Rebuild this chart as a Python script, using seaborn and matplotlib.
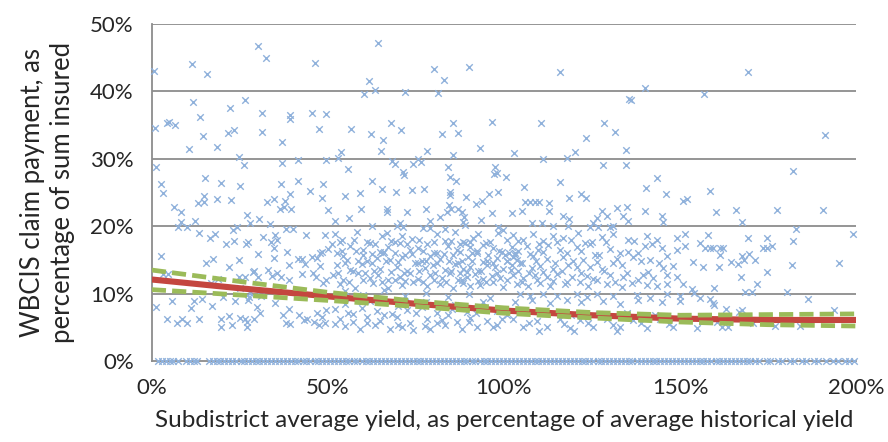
import numpy as np
import pandas as pd
import matplotlib
matplotlib.use('Agg')
import matplotlib.pyplot as plt
import seaborn as sns
from matplotlib.ticker import FuncFormatter

# ---- data (all values in percent) ----
# scatter, upper part (claims above ~24%), left half
top_left_x = [0.6, 11.4, 15.6, 30.1, 32.4, 46.3, 64.2, 61.6, 60.2, 63.4,
              11.8, 13.6, 22.2, 26.4, 0.9, 4.3, 5.0, 6.5, 14.5, 10.5,
              18.5, 21.6, 23.3, 31.3, 31.3, 36.9, 39.2, 39.2, 45.5, 49.4,
              47.4, 56.5, 62.2, 65.6, 65.1, 53.7, 52.8, 24.7, 26.1, 36.9,
              41.5, 49.4, 55.7, 1.1, 2.6, 3.1, 15.1, 19.6, 25.0, 36.6,
              41.5, 48.6, 44.9, 39.2, 62.5, 65.3, 59.1, 54.8, 14.8, 18.5,
              22.4, 48.3]
top_left_y = [43.0, 44.1, 42.6, 46.7, 45.0, 44.2, 47.2, 41.5, 39.6, 40.2,
              38.4, 36.2, 37.5, 38.7, 34.6, 35.3, 35.4, 35.0, 33.4, 31.5,
              31.8, 33.8, 34.3, 36.8, 34.0, 32.5, 36.5, 35.9, 36.8, 36.6,
              34.4, 34.4, 33.7, 32.8, 31.2, 31.0, 30.1, 30.3, 29.1, 29.4,
              29.8, 29.8, 28.5, 28.8, 26.3, 24.9, 27.2, 26.4, 26.0, 26.3,
              26.7, 26.3, 25.2, 24.8, 26.7, 25.5, 24.9, 24.5, 24.5, 24.0,
              23.9, 24.2]

# scatter, upper part, right half
top_right_x = [80.1, 90.1, 83.0, 115.9, 71.9, 81.3, 135.5, 67.9, 70.7, 85.5,
               82.4, 86.9, 96.6, 110.5, 128.4, 131.5, 123.3, 78.1, 93.2, 102.8,
               120.2, 134.7, 85.5, 68.2, 69.0, 74.1, 75.6, 76.4, 84.1, 97.4,
               111.1, 117.9, 128.1, 134.7, 71.3, 71.6, 84.7, 86.4, 97.2, 98.0,
               100.6, 115.9, 105.7, 69.3, 73.9, 77.3, 84.7, 84.7, 89.2, 95.7,
               98.3, 121.9, 123.3, 118.5, 169.3, 140.1, 136.1, 156.8, 191.2, 182.1,
               143.5, 140.3, 146.0, 158.5, 152.0]
top_right_y = [43.3, 43.6, 41.7, 42.9, 39.9, 39.8, 38.9, 35.3, 34.3, 35.3,
               33.7, 33.8, 35.5, 35.3, 35.3, 34.0, 33.1, 31.2, 31.6, 30.9,
               31.0, 31.3, 30.6, 29.7, 29.2, 29.2, 30.0, 29.5, 28.8, 28.8,
               30.0, 30.1, 29.1, 29.1, 28.0, 27.6, 27.3, 26.7, 27.7, 27.9,
               27.3, 26.6, 25.8, 25.1, 25.4, 25.5, 25.1, 24.6, 24.3, 24.8,
               25.1, 24.8, 24.2, 24.2, 42.9, 40.5, 38.7, 39.6, 33.5, 28.2,
               27.2, 25.7, 24.8, 25.2, 24.0]

# scatter, 0-50% yield, below ~24%
low_yield_x = [6.3, 8.2, 8.2, 7.4, 9.9, 12.2, 13.4, 16.5, 17.9, 21.0,
               23.0, 24.1, 23.3, 26.7, 27.3, 27.0, 27.8, 30.4, 33.5, 31.5,
               33.8, 34.9, 35.5, 34.7, 38.1, 40.1, 32.7, 34.7, 36.4, 37.5,
               37.8, 39.5, 43.8, 49.1, 30.1, 34.7, 38.4, 2.6, 15.3, 17.3,
               21.9, 24.7, 28.7, 38.9, 41.5, 42.6, 43.5, 45.5, 46.9, 47.7,
               48.3, 50.0, 47.7, 42.6, 38.9, 35.5, 36.6, 33.0, 34.1, 30.1,
               29.0, 26.4, 24.7, 3.1, 4.5, 16.8, 18.8, 45.7, 46.6, 48.6,
               49.4, 25.0, 27.8, 27.6, 31.0, 1.1, 5.7, 11.1, 11.9, 14.2,
               17.0, 20.2, 23.6, 27.3, 29.8, 30.7, 34.9, 37.2, 38.9, 41.8,
               44.0, 46.9, 48.3, 49.4, 4.3, 7.1, 8.5, 9.9, 13.4, 19.6,
               19.6, 21.9, 22.7, 25.0, 26.4, 27.0, 27.0, 29.0, 38.1, 39.2,
               43.2, 46.0, 47.4, 49.1, 13.1, 14.8, 50.0]
low_yield_y = [22.8, 22.1, 20.6, 19.9, 19.9, 20.8, 19.0, 18.2, 18.8, 17.4,
               19.4, 19.9, 17.8, 17.4, 17.7, 21.7, 20.5, 21.1, 20.3, 18.4,
               17.7, 18.7, 18.0, 16.8, 19.6, 19.6, 23.6, 24.0, 22.6, 22.8,
               23.7, 22.6, 18.7, 18.7, 15.9, 15.3, 16.2, 15.6, 14.5, 15.1,
               13.9, 15.0, 13.2, 14.2, 15.1, 15.1, 14.4, 15.4, 15.3, 16.0,
               16.2, 16.6, 14.1, 12.9, 12.0, 13.1, 12.5, 13.5, 12.6, 12.5,
               13.4, 12.5, 12.5, 12.9, 12.9, 11.6, 12.2, 13.1, 12.5, 11.6,
               12.0, 10.8, 10.1, 9.5, 9.6, 8.0, 8.9, 7.9, 8.9, 9.2,
               8.2, 9.5, 8.9, 9.1, 8.0, 7.1, 8.6, 6.8, 7.7, 6.8,
               6.2, 7.1, 6.5, 7.6, 6.2, 5.6, 6.2, 5.6, 6.2, 6.2,
               5.0, 6.7, 5.3, 6.4, 6.2, 5.8, 5.0, 6.2, 5.6, 5.5,
               6.1, 5.8, 5.3, 5.6, 23.4, 23.6, 22.4]

# scatter, 50-100% yield, below ~24% (densest part)
mid_yield_x = [52.0, 56.0, 59.4, 66.8, 66.8, 72.4, 77.8, 79.0, 81.8, 83.8,
               84.9, 84.4, 86.9, 88.1, 88.6, 88.4, 88.9, 92.0, 93.8, 93.5,
               96.6, 98.3, 99.7, 62.5, 69.6, 70.5, 71.3, 77.0, 79.0, 83.2,
               52.0, 54.0, 58.2, 61.1, 65.3, 66.8, 69.0, 71.0, 73.9, 81.0,
               83.2, 86.1, 88.9, 91.2, 92.6, 96.0, 98.3, 100.9, 51.1, 54.0,
               56.3, 59.9, 63.4, 64.8, 67.0, 70.5, 73.3, 75.6, 78.1, 81.0,
               84.1, 86.6, 88.4, 90.3, 92.3, 94.0, 96.9, 99.4, 54.3, 55.4,
               59.9, 61.1, 63.9, 65.6, 67.6, 71.0, 73.9, 76.7, 79.0, 81.8,
               85.5, 88.1, 89.8, 92.3, 95.2, 98.0, 100.3, 52.6, 56.3, 59.7,
               64.8, 69.6, 72.4, 74.7, 77.6, 79.8, 83.2, 86.1, 88.4, 90.3,
               92.6, 95.2, 97.4, 99.7, 51.4, 54.3, 58.5, 61.9, 64.2, 67.0,
               70.5, 73.3, 75.6, 79.0, 82.4, 84.7, 86.9, 89.5, 91.8, 94.0,
               96.6, 98.9, 53.4, 57.7, 62.8, 67.0, 71.0, 74.1, 78.1, 81.8,
               85.5, 88.4, 90.3, 93.2, 96.9, 99.7, 55.0, 60.0, 66.0, 72.0,
               78.0, 84.0, 90.0, 96.0, 55.0, 62.0, 70.0, 78.0, 86.0, 94.0,
               52.0, 55.7, 59.7, 63.9, 68.2, 72.4, 76.7, 81.0, 85.2, 89.5,
               93.8, 98.0, 53.4, 57.1, 61.1, 64.8, 69.6, 73.3, 78.1, 82.4,
               86.6, 90.3, 95.2, 99.4, 54.8, 59.1, 63.4, 67.6, 71.0, 74.1,
               77.6, 79.0, 83.2, 88.1, 92.3, 96.9]
mid_yield_y = [20.8, 21.2, 22.6, 22.6, 22.1, 22.1, 22.6, 20.8, 21.4, 22.1,
               22.6, 23.1, 22.6, 22.1, 21.4, 20.6, 20.2, 23.3, 23.7, 20.9,
               22.0, 19.9, 19.4, 20.0, 20.0, 20.5, 19.9, 19.7, 19.7, 19.6,
               18.8, 17.9, 19.1, 17.7, 18.5, 19.0, 17.6, 18.6, 18.1, 18.9,
               17.8, 19.1, 17.5, 18.3, 18.8, 17.7, 19.0, 18.0, 17.3, 16.3,
               17.1, 16.4, 17.4, 16.2, 16.9, 17.5, 16.4, 16.8, 17.3, 16.1,
               17.1, 16.5, 17.6, 16.9, 16.3, 17.2, 16.7, 16.2, 15.6, 15.0,
               15.8, 14.8, 15.3, 16.0, 15.0, 15.5, 15.9, 14.8, 15.6, 15.1,
               15.8, 14.9, 15.4, 16.0, 14.8, 15.3, 15.7, 14.3, 13.5, 14.4,
               13.7, 14.0, 13.4, 14.5, 13.8, 14.2, 13.5, 14.4, 13.7, 14.0,
               13.4, 14.3, 13.9, 13.6, 12.7, 12.1, 13.0, 12.3, 12.8, 12.0,
               12.5, 13.1, 12.2, 12.7, 12.3, 13.0, 12.0, 12.5, 12.9, 12.2,
               12.6, 12.3, 11.5, 10.9, 11.6, 10.8, 11.3, 11.8, 11.1, 11.5,
               10.8, 11.6, 11.1, 11.3, 11.8, 11.0, 10.4, 9.8, 10.5, 9.6,
               10.1, 9.5, 9.9, 9.4, 8.4, 8.9, 8.2, 8.8, 8.3, 8.7,
               7.8, 7.2, 7.9, 7.4, 7.0, 7.6, 8.0, 7.1, 7.8, 7.3,
               7.9, 7.4, 6.3, 5.8, 6.5, 5.9, 6.6, 5.7, 6.3, 6.1,
               5.8, 6.4, 5.9, 6.2, 5.2, 4.7, 5.3, 4.8, 5.0, 4.6,
               5.2, 4.8, 5.3, 4.7, 5.0, 5.1]

# scatter, 100-152% yield, below ~24%
high_yield_x = [106.0, 107.4, 108.8, 109.9, 112.8, 112.8, 105.1, 102.3, 116.8, 118.5,
                127.8, 129.3, 132.1, 134.9, 126.4, 125.3, 133.8, 135.2, 140.1, 144.9,
                145.2, 150.9, 108.0, 110.8, 113.9, 118.2, 124.4, 126.7, 130.1, 131.0,
                102.6, 105.4, 108.2, 111.1, 113.9, 116.8, 121.0, 125.0, 127.8, 131.0,
                135.2, 140.6, 143.5, 149.1, 151.4, 102.3, 104.0, 106.5, 109.7, 112.5,
                115.9, 120.7, 124.4, 130.1, 135.2, 140.1, 144.9, 149.1, 151.4, 102.6,
                103.7, 108.2, 112.2, 116.8, 122.4, 125.9, 132.1, 136.6, 141.5, 146.3,
                102.3, 108.0, 110.2, 113.9, 118.2, 120.7, 124.4, 127.8, 133.5, 145.2,
                148.0, 102.6, 105.4, 108.8, 112.2, 115.1, 119.3, 123.6, 125.3, 130.1,
                133.8, 139.5, 142.3, 146.3, 149.1, 103.7, 106.8, 110.2, 113.1, 117.3,
                121.6, 123.9, 129.3, 133.5, 136.4, 140.6, 143.5, 146.3, 150.9, 104.5,
                107.4, 111.1, 115.1, 120.7, 123.6, 126.4, 131.0, 137.8, 141.5, 146.3,
                150.0, 103.0, 108.0, 113.0, 118.0, 122.0, 128.0, 133.0, 138.0, 145.0,
                150.0, 102.6, 105.4, 109.4, 112.2, 115.9, 118.8, 121.6, 125.3, 129.3,
                133.0, 136.6, 140.6, 144.3, 148.0, 110.0, 120.0, 132.0, 101.5, 103.0,
                101.0, 104.5, 102.0]
high_yield_y = [23.6, 23.6, 23.6, 23.6, 23.4, 22.3, 22.3, 22.0, 21.5, 21.1,
                22.3, 21.5, 22.7, 22.8, 21.2, 20.5, 21.5, 20.8, 22.3, 21.5,
                20.6, 23.7, 20.5, 20.5, 20.0, 20.0, 19.9, 19.9, 19.9, 20.0,
                18.7, 18.0, 18.9, 17.8, 18.5, 18.2, 19.0, 17.7, 18.4, 18.8,
                18.0, 18.6, 17.9, 18.3, 18.8, 16.9, 16.3, 17.1, 16.5, 17.2,
                16.4, 16.9, 17.3, 16.6, 16.2, 17.0, 16.7, 16.4, 17.1, 15.5,
                15.0, 15.6, 15.1, 15.5, 15.0, 15.7, 15.2, 15.4, 15.0, 15.6,
                14.2, 13.8, 14.1, 13.7, 14.3, 13.9, 14.0, 13.6, 14.2, 13.8,
                14.1, 12.8, 12.3, 12.7, 12.5, 12.9, 12.4, 12.6, 12.2, 12.8,
                12.4, 12.7, 12.3, 12.8, 12.5, 11.5, 11.2, 11.6, 11.1, 11.4,
                11.7, 11.2, 11.5, 11.0, 11.6, 11.3, 11.1, 11.5, 11.4, 9.9,
                9.6, 10.0, 9.7, 9.9, 9.5, 10.0, 9.7, 9.8, 9.4, 9.9,
                9.6, 8.8, 9.0, 8.6, 9.1, 8.7, 8.9, 8.5, 9.0, 8.7,
                8.9, 6.2, 5.0, 6.0, 5.1, 6.2, 4.9, 6.1, 5.0, 6.2,
                5.0, 6.1, 4.9, 6.2, 5.0, 4.5, 4.5, 4.5, 16.0, 15.8,
                14.8, 14.5, 13.5]

# extra points filling the dense band between 50% and 150% yield
dense_x = [53.5, 57.5, 62.0, 68.0, 72.5, 76.0, 80.0, 85.0, 87.5, 90.5,
           95.0, 104.0, 110.0, 115.0, 119.0, 123.0, 129.0, 137.0, 142.0,
           52.5, 58.0, 62.5, 66.0, 69.0, 72.0, 77.0, 80.0, 83.0, 87.5,
           91.0, 95.5, 98.5, 103.0, 107.5, 111.0, 118.0, 122.0, 127.0, 133.0, 138.0,
           55.0, 58.5, 62.5, 66.5, 70.0, 75.5, 78.0, 81.0, 84.5, 87.0,
           91.0, 94.0, 97.0, 101.0, 105.0, 109.0, 114.5, 119.5, 126.5, 131.0, 139.0, 144.0,
           53.0, 57.0, 60.5, 63.0, 68.0, 71.5, 76.0, 80.5, 85.0, 87.5,
           89.5, 93.5, 98.0, 104.0, 107.0, 111.0, 116.5, 122.0, 128.5, 135.0, 141.0,
           56.0, 60.0, 65.5, 69.0, 72.0, 77.0, 80.0, 83.5, 88.0, 92.5,
           95.0, 101.0, 105.0, 109.5, 114.0, 118.0, 126.5, 131.5, 138.0,
           57.0, 66.0, 75.0, 84.0, 92.0, 101.0, 111.0, 119.0, 127.0, 135.0, 143.0,
           52.0, 61.0, 70.0, 81.0, 90.0, 98.0, 107.0, 117.0, 124.0, 131.0, 139.0, 147.0]
dense_y = [17.6, 17.9, 17.5, 17.8, 17.4, 17.9, 17.6, 17.8, 17.3, 17.7,
           17.5, 17.8, 17.4, 17.7, 17.9, 17.5, 17.6, 17.8, 17.4,
           16.0, 16.3, 15.9, 16.2, 16.0, 15.8, 16.3, 16.1, 15.9, 16.2,
           16.0, 15.8, 16.3, 16.1, 15.9, 16.2, 16.0, 16.3, 15.8, 16.1, 16.0,
           14.6, 14.9, 14.5, 14.8, 14.7, 14.5, 14.9, 14.6, 14.8, 14.5,
           14.9, 14.7, 14.6, 14.8, 14.5, 14.9, 14.6, 14.8, 14.7, 14.5, 14.9, 14.6,
           13.1, 13.4, 13.0, 13.3, 13.2, 13.0, 13.4, 13.1, 13.3, 13.0,
           13.2, 13.4, 13.1, 13.3, 13.0, 13.2, 13.4, 13.1, 13.3, 13.0, 13.2,
           11.8, 12.0, 11.7, 12.1, 11.9, 11.7, 12.0, 11.8, 12.1, 11.9,
           11.7, 12.0, 11.8, 12.1, 11.9, 11.7, 12.0, 11.8, 12.1,
           7.0, 6.8, 7.2, 6.9, 7.1, 6.8, 7.2, 6.9, 7.0, 7.1, 6.8,
           5.5, 5.7, 5.4, 5.6, 5.8, 5.4, 5.6, 5.5, 5.7, 5.4, 5.6, 5.5]

# scatter, 152-200% yield, below ~24%
top_yield_x = [160.2, 165.9, 177.6, 190.6, 167.6, 183.0, 199.1, 158.0, 169.3, 174.7,
               182.1, 155.7, 157.1, 158.5, 159.4, 161.4, 162.2, 173.6, 174.7, 176.1,
               161.4, 167.6, 169.6, 168.2, 171.3, 153.7, 164.5, 166.5, 156.5, 161.1,
               181.8, 195.2, 174.7, 167.3, 171.9, 159.7, 168.5, 170.5, 180.4, 153.4,
               154.0, 186.4, 155.7, 158.5, 159.4, 159.7, 163.1, 167.6, 166.8, 193.8,
               154.8, 161.9, 163.6, 160.5, 181.3, 177.0, 184.1, 170.7, 185.5]
top_yield_y = [22.1, 22.4, 22.4, 22.4, 20.6, 19.6, 18.8, 18.7, 18.2, 18.2,
               17.8, 17.5, 16.8, 16.8, 16.8, 16.8, 16.8, 16.8, 16.8, 17.1,
               15.7, 15.6, 15.9, 15.0, 15.0, 14.7, 14.7, 14.4, 13.9, 13.9,
               14.2, 14.5, 13.2, 12.5, 11.4, 10.8, 10.2, 10.2, 10.2, 10.7,
               10.1, 9.2, 9.3, 9.2, 8.6, 8.3, 7.7, 7.6, 7.3, 7.6,
               4.9, 5.0, 5.0, 5.8, 5.8, 5.2, 5.2, 5.6, 6.1]

# subdistricts with no claim payment (y = 0)
zero_x = [1.8, 2.9, 4.0, 5.1, 6.0, 7.4, 9.8, 10.9, 12.0, 12.8,
          16.2, 17.3, 18.5, 19.4, 20.6, 21.7, 22.9, 24.0, 25.2, 26.1,
          27.3, 28.4, 29.6, 30.5, 31.7, 32.8, 33.9, 35.1, 36.0, 37.2,
          38.3, 39.5, 40.6, 41.6, 42.8, 43.9, 45.0, 46.2, 47.3, 48.4,
          49.4, 50.6, 51.7, 52.8, 54.0, 55.1, 56.1, 57.3, 58.4, 59.6,
          60.7, 61.8, 62.8, 64.0, 65.1, 66.3, 67.4, 68.5, 69.5, 70.7,
          71.8, 73.0, 74.1, 75.2, 76.2, 77.4, 78.5, 79.7, 80.8, 81.9,
          82.9, 84.1, 85.2, 86.4, 87.5, 88.6, 89.6, 90.8, 91.9, 93.1,
          94.2, 95.3, 96.3, 97.5, 98.6, 99.8, 100.9, 102.0, 103.0, 104.2,
          105.3, 106.5, 107.6, 108.7, 109.7, 110.9, 112.0, 113.2, 114.3, 115.4,
          116.4, 117.6, 118.7, 119.9, 121.0, 122.1, 123.1, 124.3, 125.4, 126.6,
          127.7, 128.8, 129.8, 131.0, 132.1, 133.3, 134.4, 135.5, 136.5, 137.7,
          138.8, 140.0, 141.1, 142.2, 143.2, 144.4, 145.5, 146.7, 147.8, 148.9,
          149.9, 151.1, 152.2, 153.4, 154.5, 155.6, 156.6, 157.8, 158.9, 160.1,
          161.2, 162.3, 163.3, 164.5, 165.6, 166.8, 167.9, 169.0, 170.0, 171.2,
          172.3, 174.6, 175.7, 177.9, 179.0, 181.2, 182.5, 184.7, 185.8, 188.1,
          189.2, 191.4, 193.6, 195.0, 196.9, 198.0, 199.4]

# fitted curve and its confidence band
fit_x = [0, 25, 50, 75, 100, 125, 150, 175, 200]
fit_y = [12.1, 10.8, 9.6, 8.5, 7.5, 6.8, 6.3, 6.1, 6.1]
band_upper = [13.5, 11.8, 10.2, 8.9, 7.9, 7.2, 6.8, 6.9, 7.0]
band_lower = [10.6, 9.8, 9.0, 8.1, 7.1, 6.4, 5.8, 5.4, 5.2]

x_ticks = [0, 50, 100, 150, 200]
y_ticks = [0, 10, 20, 30, 40, 50]

# ---- build data frame ----
xs = (top_left_x + top_right_x + low_yield_x + mid_yield_x
      + high_yield_x + dense_x + top_yield_x + zero_x)
ys = (top_left_y + top_right_y + low_yield_y + mid_yield_y
      + high_yield_y + dense_y + top_yield_y + [0.0] * len(zero_x))
df = pd.DataFrame({'yield': xs, 'claim': ys})

# ---- plot ----
sns.set_style('white')
plt.rcParams['font.family'] = ['Lato', 'DejaVu Sans']

grey = '#8c8c8c'
text_col = '#262626'

fig = plt.figure(figsize=(8.88, 4.42), dpi=100)
ax = fig.add_axes([0.171, 0.183, 0.793, 0.763])

for yv in y_ticks[1:]:
    ax.axhline(yv, color=grey, lw=1.3, zorder=1)

sns.scatterplot(data=df, x='yield', y='claim', marker='x', color='#8fb1db',
                s=22, linewidth=1.0, ax=ax, zorder=3, clip_on=False, legend=False)

ax.plot(fit_x, fit_y, color='#c4463f', lw=4.4, zorder=4, solid_capstyle='butt')
for band in (band_upper, band_lower):
    ax.plot(fit_x, band, color='#9bbb59', lw=3.4, zorder=5,
            linestyle=(0, (3.0, 1.3)))

ax.set_xlim(0, 200)
ax.set_ylim(0, 50)
ax.set_xticks(x_ticks)
ax.set_yticks(y_ticks)
ax.xaxis.set_major_formatter(FuncFormatter(lambda v, p: f'{v:.0f}%'))
ax.yaxis.set_major_formatter(FuncFormatter(lambda v, p: f'{v:.0f}%'))

for side in ('top', 'right'):
    ax.spines[side].set_visible(False)
for side in ('left', 'bottom'):
    ax.spines[side].set_color(grey)
    ax.spines[side].set_linewidth(1.3)

ax.tick_params(axis='both', colors=grey, labelcolor=text_col, labelsize=16,
               width=1.2, length=7, direction='out')
ax.tick_params(axis='x', pad=5)
ax.tick_params(axis='y', pad=6)

ax.set_xlabel('Subdistrict average yield, as percentage of average historical yield',
              fontsize=17.5, color=text_col, labelpad=9)
ax.set_ylabel('WBCIS claim payment, as\npercentage of sum insured',
              fontsize=18.5, color=text_col, labelpad=11, linespacing=1.25)

fig.savefig('out.png', dpi=100)
